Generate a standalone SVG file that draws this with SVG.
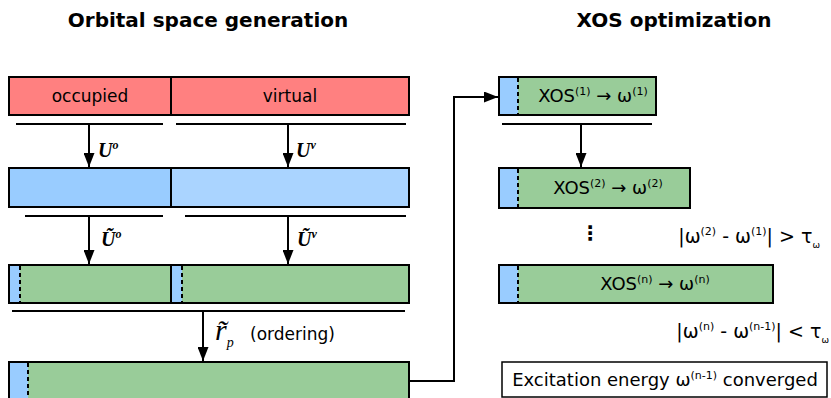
<svg xmlns="http://www.w3.org/2000/svg" width="831" height="398" viewBox="0 0 831 398">
<defs>
<marker id="ah" viewBox="0 0 14 11" refX="14" refY="5.5" markerWidth="14" markerHeight="11" markerUnits="userSpaceOnUse" orient="auto">
<path d="M0,0 L14,5.5 L0,11 z" fill="#000"/>
</marker>
<style>
.box{stroke:#000;stroke-width:2}
.red{fill:#FF8080}
.b1{fill:#99CCFF}
.b2{fill:#AAD4FF}
.g{fill:#99CC99}
.dash{stroke:#000;stroke-width:2;stroke-dasharray:4,3}
.ln{stroke:#000;stroke-width:2;fill:none}
.t{font-family:"DejaVu Sans",sans-serif;fill:#000}
.title{font-family:"DejaVu Sans",sans-serif;font-weight:bold;font-size:20px}
.m{font-family:"Liberation Serif","DejaVu Serif",serif;font-style:italic;font-weight:bold}
</style>
</defs>
<text class="title" x="208" y="27" text-anchor="middle">Orbital space generation</text>
<text class="title" x="674" y="27" text-anchor="middle">XOS optimization</text>

<g id="row1">
<rect class="box red" x="9" y="77" width="400" height="38"/>
<line class="ln" x1="171" y1="77" x2="171" y2="115"/>
<text class="t" x="90" y="102" font-size="17" text-anchor="middle">occupied</text>
<text class="t" x="290" y="102" font-size="17" text-anchor="middle">virtual</text>
</g>
<g id="row2">
<rect class="box b1" x="9" y="168" width="162" height="39"/>
<rect class="box b2" x="171" y="168" width="238" height="39"/>
</g>
<g id="row3">
<rect class="box g" x="9" y="265" width="400" height="38"/>
<rect class="b1" x="10" y="266" width="10" height="36"/>
<rect class="b1" x="172" y="266" width="10" height="36"/>
<line class="dash" x1="20" y1="266" x2="20" y2="302"/>
<line class="dash" x1="182" y1="266" x2="182" y2="302"/>
<line class="ln" x1="171" y1="265" x2="171" y2="303"/>
</g>
<g id="row4">
<rect class="box g" x="9" y="362" width="400" height="40"/>
<rect class="b1" x="10" y="363" width="18" height="38"/>
<line class="dash" x1="28" y1="363" x2="28" y2="398"/>
</g>
<g id="xos1">
<rect class="box g" x="499" y="77" width="157" height="38"/>
<rect class="b1" x="500" y="78" width="18" height="36"/>
<line class="dash" x1="518" y1="78" x2="518" y2="114"/>
<text class="t" x="593" y="102" font-size="18" text-anchor="middle">XOS<tspan font-size="11" dy="-7">(1)</tspan><tspan dy="7"> → ω</tspan><tspan font-size="11" dy="-7">(1)</tspan></text>
</g>
<g id="xos2">
<rect class="box g" x="499" y="168" width="191" height="40"/>
<rect class="b1" x="500" y="169" width="18" height="38"/>
<line class="dash" x1="518" y1="169" x2="518" y2="207"/>
<text class="t" x="608" y="194" font-size="18" text-anchor="middle">XOS<tspan font-size="11" dy="-7">(2)</tspan><tspan dy="7"> → ω</tspan><tspan font-size="11" dy="-7">(2)</tspan></text>
</g>
<g id="xosn">
<rect class="box g" x="499" y="265" width="274" height="38"/>
<rect class="b1" x="500" y="266" width="18" height="36"/>
<line class="dash" x1="518" y1="266" x2="518" y2="302"/>
<text class="t" x="655" y="290" font-size="18" text-anchor="middle">XOS<tspan font-size="11" dy="-7">(n)</tspan><tspan dy="7"> → ω</tspan><tspan font-size="11" dy="-7">(n)</tspan></text>
</g>
<g id="converged">
<rect x="502" y="362" width="325" height="35" fill="#fff" stroke="#000" stroke-width="1.5"/>
<text class="t" x="665" y="386" font-size="18" text-anchor="middle">Excitation energy ω<tspan font-size="11" dy="-7">(n-1)</tspan><tspan dy="7"> converged</tspan></text>
</g>
<g id="conditions">
<text class="t" x="590" y="240" font-size="20" font-weight="bold" text-anchor="middle">⋮</text>
<text class="t" x="820" y="243" font-size="19" text-anchor="end">|ω<tspan font-size="11" dy="-8">(2)</tspan><tspan dy="8"> - ω</tspan><tspan font-size="11" dy="-8">(1)</tspan><tspan dy="8">| &gt; τ</tspan><tspan font-size="9" dy="5">ω</tspan></text>
<text class="t" x="829" y="338" font-size="19" text-anchor="end">|ω<tspan font-size="11" dy="-8">(n)</tspan><tspan dy="8"> - ω</tspan><tspan font-size="11" dy="-8">(n-1)</tspan><tspan dy="8">| &lt; τ</tspan><tspan font-size="9" dy="5">ω</tspan></text>
</g>
<g id="connectors">
<line class="ln" x1="16" y1="124" x2="163" y2="124"/>
<line class="ln" x1="176" y1="124" x2="406" y2="124"/>
<line class="ln" x1="89" y1="124" x2="89" y2="167" marker-end="url(#ah)"/>
<line class="ln" x1="288" y1="124" x2="288" y2="167" marker-end="url(#ah)"/>
<text class="m" x="98" y="157" font-size="20">U<tspan font-size="12" dy="-8">o</tspan></text>
<text class="m" x="296" y="157" font-size="20">U<tspan font-size="12" dy="-8">v</tspan></text>
<line class="ln" x1="25" y1="216" x2="163" y2="216"/>
<line class="ln" x1="185" y1="216" x2="406" y2="216"/>
<line class="ln" x1="89" y1="216" x2="89" y2="264" marker-end="url(#ah)"/>
<line class="ln" x1="288" y1="216" x2="288" y2="264" marker-end="url(#ah)"/>
<text class="m" x="101" y="246" font-size="20">Ũ<tspan font-size="12" dy="-8">o</tspan></text>
<text class="m" x="297" y="246" font-size="20">Ũ<tspan font-size="12" dy="-8">v</tspan></text>
<line class="ln" x1="12" y1="311" x2="405" y2="311"/>
<line class="ln" x1="203" y1="311" x2="203" y2="361" marker-end="url(#ah)"/>
<text x="215" y="340" font-family="Liberation Serif,serif" font-style="italic" font-size="30">r̃<tspan font-size="14" dy="7">p</tspan></text>
<text class="t" x="250" y="340" font-size="17">(ordering)</text>
<polyline class="ln" points="409,381 454,381 454,97 498,97" marker-end="url(#ah)"/>
<line class="ln" x1="502" y1="124" x2="652" y2="124"/>
<line class="ln" x1="581" y1="124" x2="581" y2="167" marker-end="url(#ah)"/>
</g>
</svg>
